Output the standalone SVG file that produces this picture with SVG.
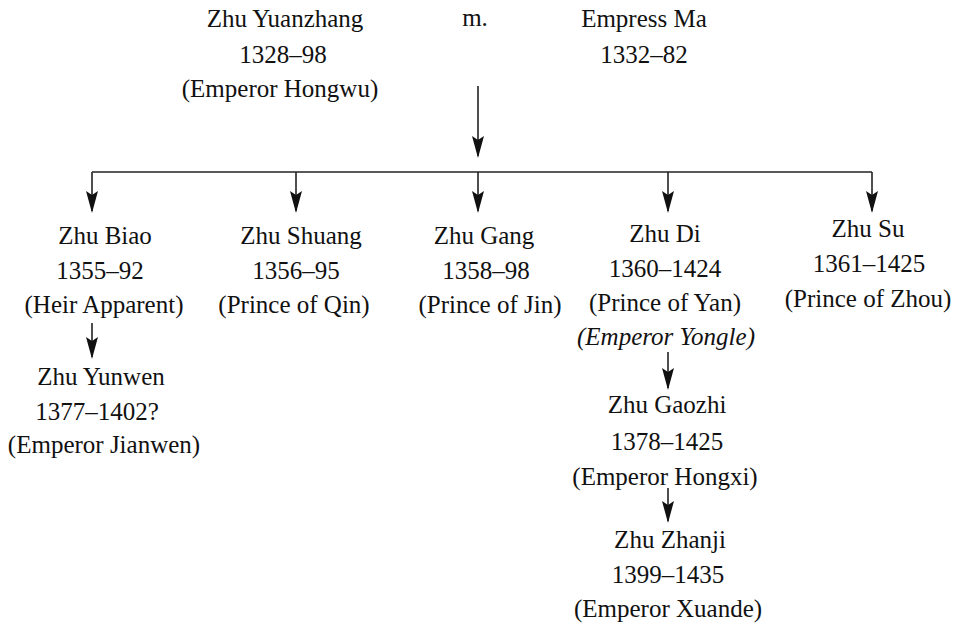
<svg xmlns="http://www.w3.org/2000/svg" width="964" height="627" viewBox="0 0 964 627">
<defs>
<style>
.t text{font-size:25px;fill:#111;text-anchor:middle}
.it{font-style:italic}
.ln{stroke:#222;stroke-width:1.6;fill:none}
</style>
<marker id="ah" markerUnits="userSpaceOnUse" viewBox="0 0 22 12" refX="20" refY="6" markerWidth="22" markerHeight="12" orient="auto">
<path d="M0,0 L22,6 L0,12 L4,6 Z" fill="#111"/>
</marker>
</defs>
<rect width="964" height="627" fill="#fff"/>
<g id="connectors">
<line class="ln" x1="478" y1="86" x2="478" y2="156" marker-end="url(#ah)"/>
<line class="ln" x1="92" y1="172" x2="872" y2="172"/>
<line class="ln" x1="92" y1="172" x2="92" y2="211" marker-end="url(#ah)"/>
<line class="ln" x1="296" y1="172" x2="296" y2="211" marker-end="url(#ah)"/>
<line class="ln" x1="478" y1="172" x2="478" y2="211" marker-end="url(#ah)"/>
<line class="ln" x1="668" y1="172" x2="668" y2="211" marker-end="url(#ah)"/>
<line class="ln" x1="872" y1="172" x2="872" y2="211" marker-end="url(#ah)"/>
<line class="ln" x1="92" y1="323" x2="92" y2="357" marker-end="url(#ah)"/>
<line class="ln" x1="668" y1="352" x2="668" y2="388" marker-end="url(#ah)"/>
<line class="ln" x1="668" y1="488" x2="668" y2="521" marker-end="url(#ah)"/>
</g>
<g class="t" font-family="'Liberation Serif', 'Times New Roman', serif">
<g id="zhu-yuanzhang">
<text x="285" y="27">Zhu Yuanzhang</text>
<text x="283" y="63">1328–98</text>
<text x="280" y="97">(Emperor Hongwu)</text>
</g>
<g id="marriage"><text x="475" y="26">m.</text></g>
<g id="empress-ma">
<text x="644" y="27">Empress Ma</text>
<text x="644" y="63">1332–82</text>
</g>
<g id="zhu-biao">
<text x="105" y="244">Zhu Biao</text>
<text x="100" y="279">1355–92</text>
<text x="104" y="313">(Heir Apparent)</text>
</g>
<g id="zhu-yunwen">
<text x="101" y="385">Zhu Yunwen</text>
<text x="97" y="420">1377–1402?</text>
<text x="104" y="453">(Emperor Jianwen)</text>
</g>
<g id="zhu-shuang">
<text x="301" y="244">Zhu Shuang</text>
<text x="296" y="279">1356–95</text>
<text x="294" y="313">(Prince of Qin)</text>
</g>
<g id="zhu-gang">
<text x="484" y="244">Zhu Gang</text>
<text x="486" y="279">1358–98</text>
<text x="490" y="313">(Prince of Jin)</text>
</g>
<g id="zhu-di">
<text x="665" y="242">Zhu Di</text>
<text x="665" y="277">1360–1424</text>
<text x="665" y="311">(Prince of Yan)</text>
<text class="it" x="666" y="345">(Emperor Yongle)</text>
</g>
<g id="zhu-gaozhi">
<text x="667" y="413">Zhu Gaozhi</text>
<text x="667" y="450">1378–1425</text>
<text x="665" y="485">(Emperor Hongxi)</text>
</g>
<g id="zhu-zhanji">
<text x="670" y="548">Zhu Zhanji</text>
<text x="668" y="583">1399–1435</text>
<text x="668" y="617">(Emperor Xuande)</text>
</g>
<g id="zhu-su">
<text x="868" y="237">Zhu Su</text>
<text x="869" y="272">1361–1425</text>
<text x="868" y="307">(Prince of Zhou)</text>
</g>
</g>
</svg>
